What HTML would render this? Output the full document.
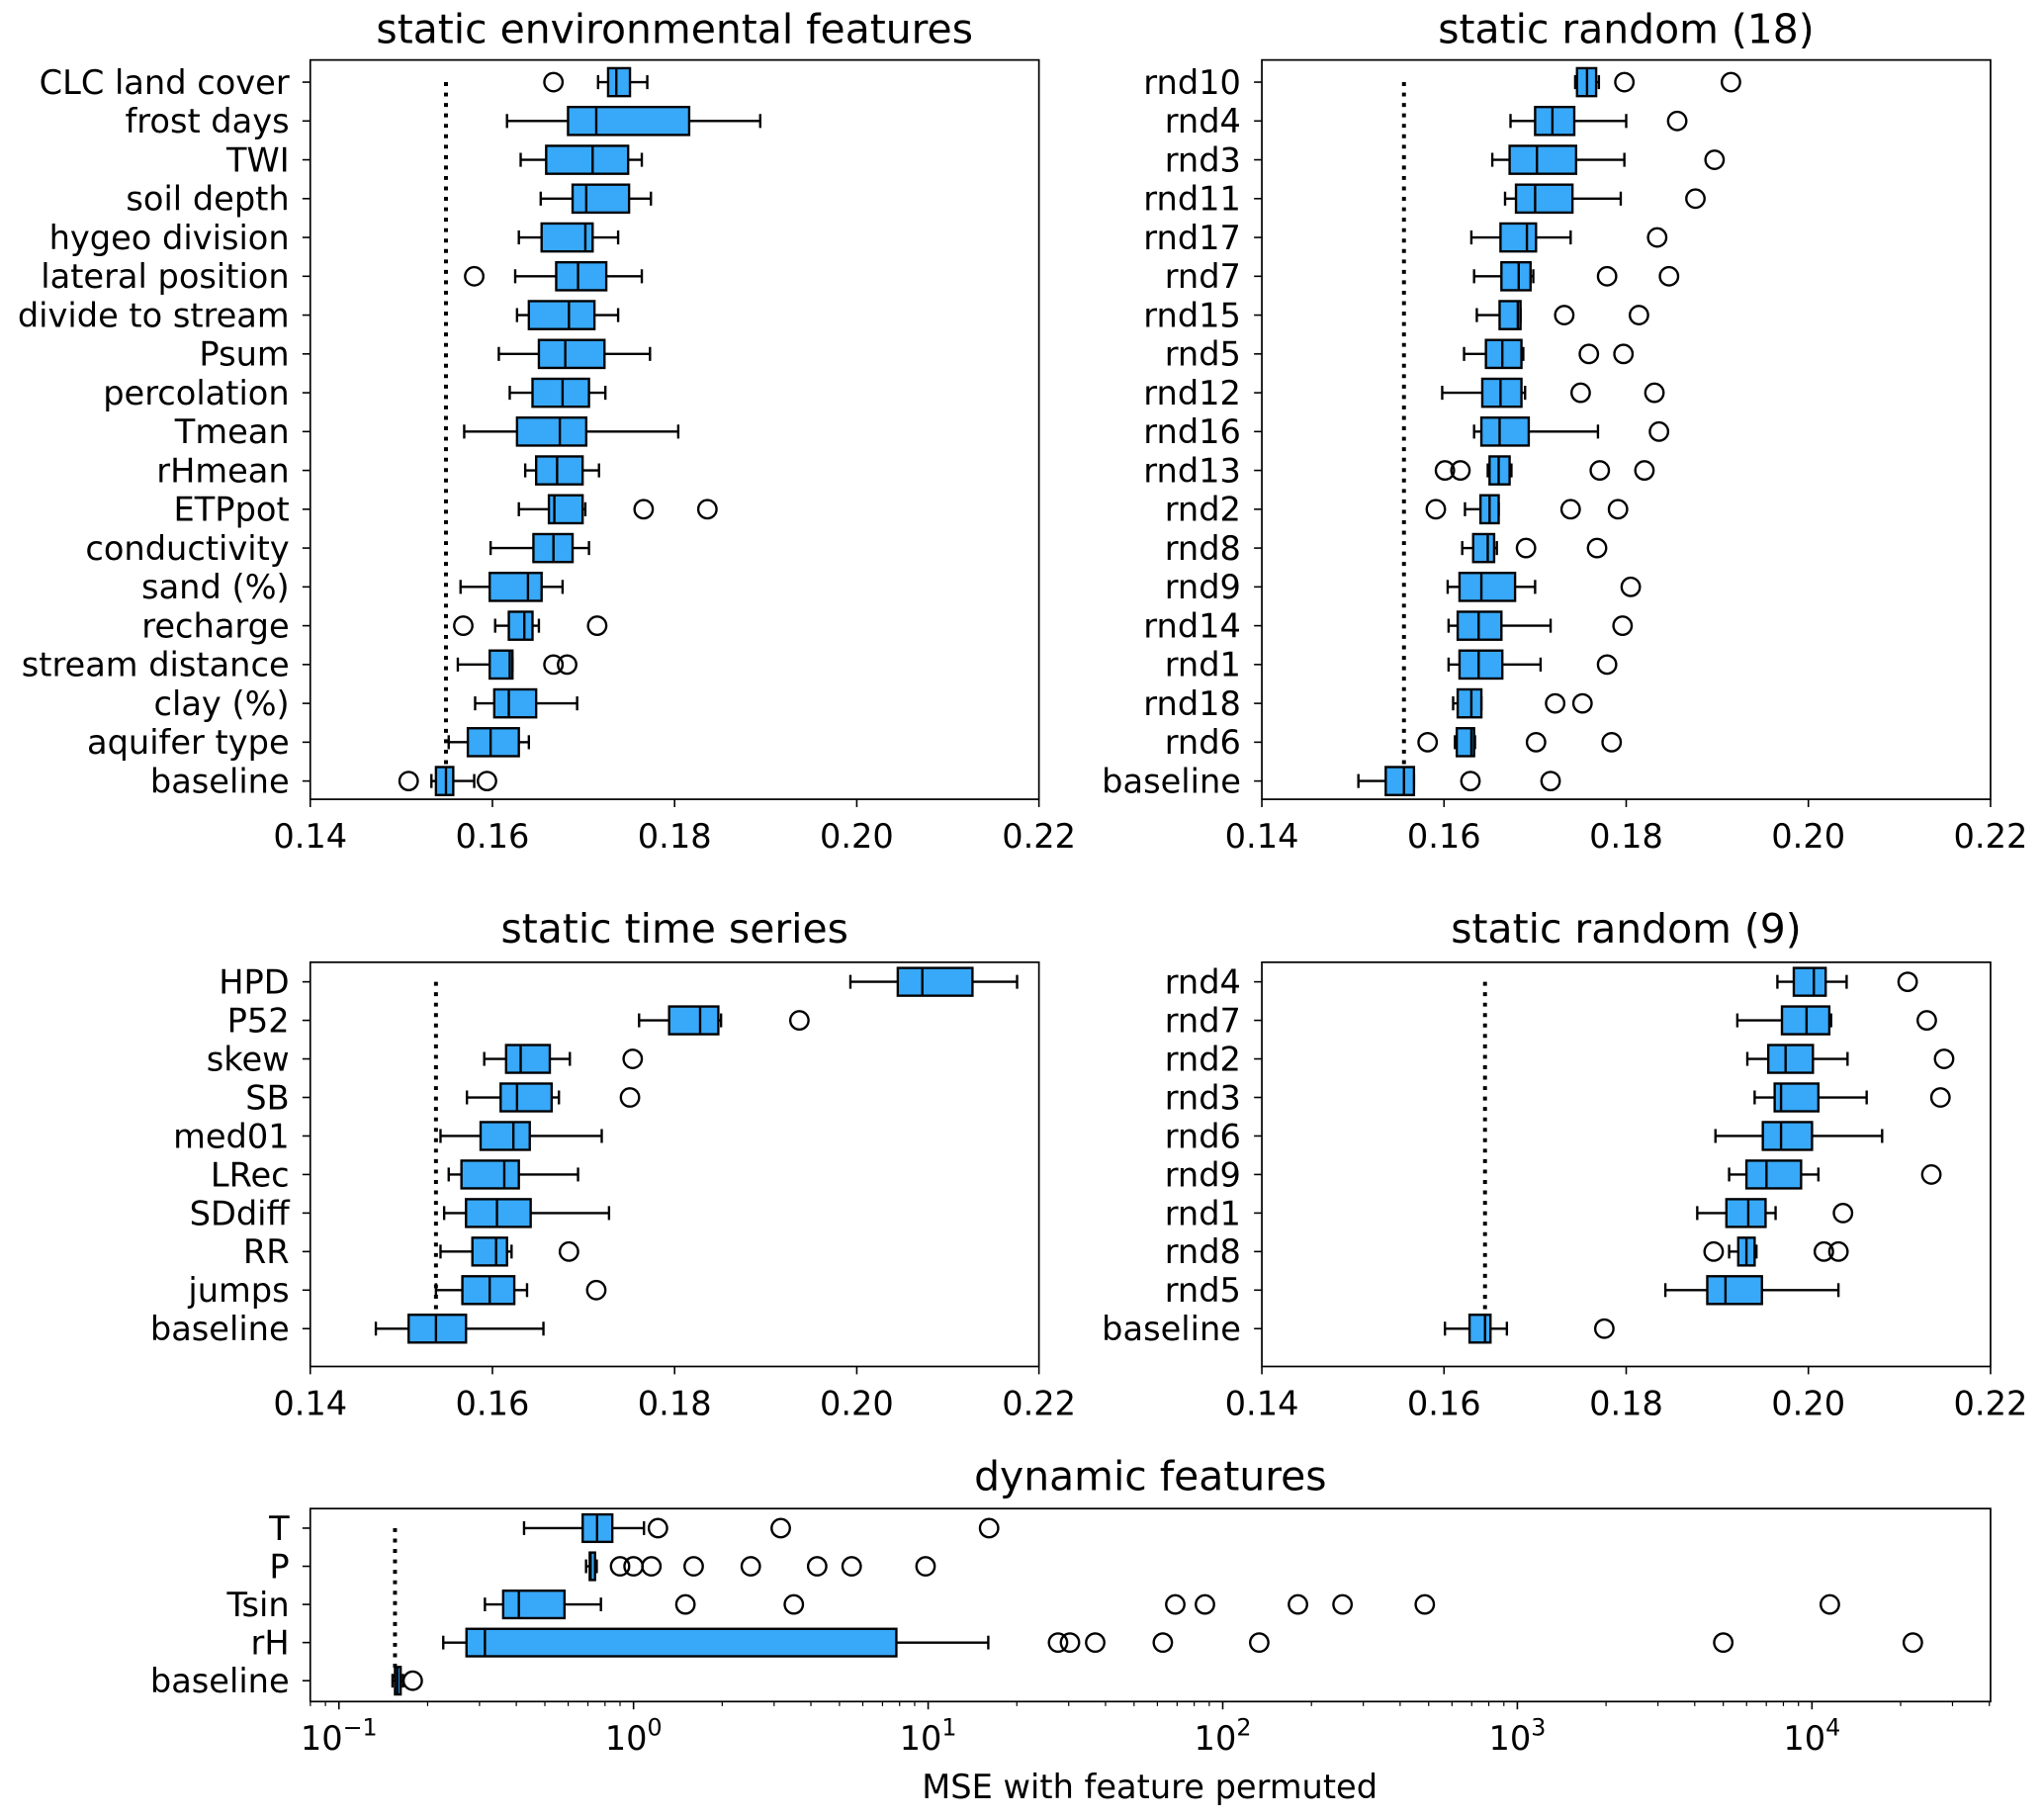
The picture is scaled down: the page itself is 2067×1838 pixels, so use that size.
<!DOCTYPE html>
<html><head><meta charset="utf-8"><style>
html,body{margin:0;padding:0;background:#fff;}
svg{display:block;font-family:"DejaVu Sans","Liberation Sans",sans-serif;}
</style></head><body>
<svg id="fig" width="2067" height="1838" viewBox="0 0 1568 1394.3" xmlns="http://www.w3.org/2000/svg">
<rect width="1568" height="1394.3" fill="#fff"/>
</svg>
<script>
// ---------- data: panel 1 static environmental features ----------
const envLabels = ["CLC land cover","frost days","TWI","soil depth","hygeo division","lateral position","divide to stream","Psum","percolation","Tmean","rHmean","ETPpot","conductivity","sand (%)","recharge","stream distance","clay (%)","aquifer type","baseline"];
const envWlo = [.1716,.1616,.1631,.1653,.1629,.1625,.1627,.1607,.1619,.1569,.1636,.1629,.1598,.1565,.1603,.1562,.1581,.1552,.1533];
const envQ1  = [.1727,.1683,.1659,.1688,.1654,.1670,.1640,.1651,.1644,.1627,.1648,.1662,.1645,.1597,.1618,.1597,.1602,.1573,.1538];
const envMed = [.1736,.1714,.1710,.1703,.1702,.1694,.1684,.1680,.1677,.1674,.1671,.1668,.1667,.1639,.1635,.1619,.1618,.1598,.1549];
const envQ3  = [.1751,.1816,.1749,.1750,.1710,.1725,.1712,.1723,.1706,.1703,.1699,.1699,.1688,.1654,.1644,.1622,.1648,.1629,.1557];
const envWhi = [.1770,.1894,.1764,.1774,.1738,.1764,.1738,.1773,.1724,.1804,.1717,.1702,.1706,.1677,.1651,.1622,.1693,.1640,.1580];
const envOut = [[.1667],[],[],[],[],[.1580],[],[],[],[],[],[.1766,.1836],[],[],[.1568,.1715],[.1667,.1682],[],[],[.1508,.1594]];
const envRef = 0.1549;
// ---------- data: panel 2 static random (18) ----------
const r18Labels = ["rnd10","rnd4","rnd3","rnd11","rnd17","rnd7","rnd15","rnd5","rnd12","rnd16","rnd13","rnd2","rnd8","rnd9","rnd14","rnd1","rnd18","rnd6","baseline"];
const r18Wlo = [.1744,.1673,.1653,.1667,.1630,.1633,.1636,.1622,.1598,.1633,.1648,.1623,.1620,.1604,.1605,.1605,.1610,.1612,.1506];
const r18Q1  = [.1746,.1700,.1672,.1679,.1662,.1663,.1661,.1646,.1642,.1641,.1650,.1640,.1632,.1617,.1615,.1617,.1615,.1614,.1536];
const r18Med = [.1757,.1719,.1702,.1700,.1691,.1682,.1681,.1664,.1662,.1661,.1660,.1650,.1648,.1641,.1638,.1638,.1630,.1630,.1556];
const r18Q3  = [.1767,.1743,.1745,.1741,.1701,.1695,.1684,.1685,.1685,.1693,.1672,.1660,.1655,.1678,.1663,.1664,.1641,.1633,.1567];
const r18Whi = [.1770,.1800,.1798,.1794,.1739,.1698,.1684,.1687,.1689,.1769,.1674,.1660,.1658,.1700,.1717,.1706,.1641,.1634,.1567];
const r18Out = [[.1798,.1915],[.1856],[.1897],[.1876],[.1834],[.1779,.1847],[.1732,.1814],[.1759,.1797],[.1750,.1831],[.1836],[.1601,.1618,.1771,.1820],[.1591,.1739,.1791],[.1690,.1768],[.1805],[.1796],[.1779],[.1722,.1752],[.1582,.1701,.1784],[.1629,.1717]];
const r18Ref = 0.1556;
// ---------- data: panel 3 static time series ----------
const tsLabels = ["HPD","P52","skew","SB","med01","LRec","SDdiff","RR","jumps","baseline"];
const tsWlo = [.1993,.1761,.1591,.1572,.1543,.1552,.1547,.1543,.1538,.1472];
const tsQ1  = [.2045,.1794,.1615,.1609,.1587,.1566,.1571,.1578,.1567,.1508];
const tsMed = [.2072,.1828,.1631,.1627,.1623,.1613,.1605,.1604,.1597,.1538];
const tsQ3  = [.2127,.1848,.1663,.1665,.1641,.1629,.1642,.1616,.1624,.1571];
const tsWhi = [.2176,.1851,.1685,.1673,.1720,.1694,.1728,.1621,.1638,.1656];
const tsOut = [[],[.1937],[.1754],[.1751],[],[],[],[.1684],[.1714],[]];
const tsRef = 0.1538;
// ---------- data: panel 4 static random (9) ----------
const r9Labels = ["rnd4","rnd7","rnd2","rnd3","rnd6","rnd9","rnd1","rnd8","rnd5","baseline"];
const r9Wlo = [.1966,.1922,.1933,.1941,.1898,.1913,.1878,.1913,.1843,.1601];
const r9Q1  = [.1984,.1971,.1956,.1963,.1950,.1932,.1910,.1923,.1889,.1628];
const r9Med = [.2006,.1998,.1975,.1970,.1970,.1954,.1934,.1932,.1909,.1645];
const r9Q3  = [.2019,.2023,.2005,.2011,.2004,.1992,.1953,.1941,.1949,.1651];
const r9Whi = [.2042,.2025,.2043,.2064,.2081,.2011,.1964,.1943,.2033,.1669];
const r9Out = [[.2109],[.2130],[.2149],[.2145],[],[.2135],[.2038],[.1896,.2017,.2033],[],[.1776]];
const r9Ref = 0.1645;
// ---------- data: panel 5 dynamic features (log) ----------
const dynLabels = ["T","P","Tsin","rH","baseline"];
const dynWlo = [.425,.69,.313,.226,.152];
const dynQ1  = [.672,.71,.361,.271,.155];
const dynMed = [.752,.715,.408,.313,.158];
const dynQ3  = [.847,.74,.583,7.8,.162];
const dynWhi = [1.085,.75,.775,16,.165];
const dynOut = [[1.21,3.16,16.1],[.9,1.0,1.15,1.6,2.5,4.2,5.5,9.8],[1.5,3.5,69,87,180,255,485,11500],[27.6,30.3,36.9,62.6,133,5000,22000],[.178]];
const dynRef = 0.155;
const linTicks = [0.14,0.16,0.18,0.20,0.22];
const linTickLabels = ["0.14","0.16","0.18","0.20","0.22"];
const logMajor = [-1,0,1,2,3,4];
const logMajorLabels = ["−1","0","1","2","3","4"];

const NS = "http://www.w3.org/2000/svg";
const svg = document.getElementById("fig");
function el(tag, attrs, parent){
  const e = document.createElementNS(NS, tag);
  for (const k in attrs) e.setAttribute(k, attrs[k]);
  (parent||svg).appendChild(e);
  return e;
}
const FILL = "#38a8f8", TF = 25.5, TTF = 31;

function drawPanel(p){
  const g = el("g", {});
  
  
  let sx;
  if (p.log) {
    const lo = Math.log10(p.dmin), hi = Math.log10(p.dmax);
    sx = v => p.x0 + (Math.log10(v) - lo) / (hi - lo) * (p.x1 - p.x0);
  } else {
    sx = v => p.x0 + (v - p.dmin) / (p.dmax - p.dmin) * (p.x1 - p.x0);
  }
  const n = p.labels.length;
  const sy = i => p.yFirst + i * (p.yLast - p.yFirst) / (n - 1);
  const row = (p.yLast - p.yFirst) / (n - 1);
  const bh = row * 0.72;
  const t = el("text", {x:(p.x0+p.x1)/2, y:p.titleY, "text-anchor":"middle", "font-size":TTF, fill:"#000"}, g);
  t.textContent = p.title;
  
  
  const ref = el("line", {x1:sx(p.ref), x2:sx(p.ref), y1:p.yFirst, y2:p.yLast, stroke:"#000", "stroke-width":3, "stroke-dasharray":"3,5"}, g);
  
  
  for (let i = 0; i < n; i++){
    const y = sy(i);
    const bg = el("g", {}, g);
    
    
    const wl = sx(p.wlo[i]), q1 = sx(p.q1[i]), md = sx(p.med[i]), q3 = sx(p.q3[i]), wh = sx(p.whi[i]);
    el("line", {x1:wl, x2:q1, y1:y, y2:y, stroke:"#000", "stroke-width":1.8}, bg);
    el("line", {x1:q3, x2:wh, y1:y, y2:y, stroke:"#000", "stroke-width":1.8}, bg);
    el("line", {x1:wl, x2:wl, y1:y-bh/4, y2:y+bh/4, stroke:"#000", "stroke-width":1.8}, bg);
    el("line", {x1:wh, x2:wh, y1:y-bh/4, y2:y+bh/4, stroke:"#000", "stroke-width":1.8}, bg);
    el("rect", {x:q1, y:y-bh/2, width:Math.max(q3-q1,0.5), height:bh, fill:FILL, stroke:"#000", "stroke-width":1.8}, bg);
    el("line", {x1:md, x2:md, y1:y-bh/2, y2:y+bh/2, stroke:"#000", "stroke-width":1.8}, bg);
    for (const o of p.out[i]){
      const c = el("circle", {cx:sx(o), cy:y, r:7, fill:"none", stroke:"#000", "stroke-width":1.8}, bg);
      
      
    }
    el("line", {x1:p.x0-6, x2:p.x0, y1:y, y2:y, stroke:"#000", "stroke-width":1.2}, g);
    const lb = el("text", {x:p.x0-16, y:y+9, "text-anchor":"end", "font-size":TF, fill:"#000"}, g);
    lb.textContent = p.labels[i];
    
    
  }
  const fr = el("rect", {x:p.x0, y:p.y0, width:p.x1-p.x0, height:p.y1-p.y0, fill:"none", stroke:"#000", "stroke-width":1.3}, g);
  
  
  if (p.log){
    for (let k = -2; k <= 5; k++){
      for (let m = 1; m <= 9; m++){
        const v = m * Math.pow(10, k);
        if (v < p.dmin || v > p.dmax) continue;
        const x = sx(v);
        el("line", {x1:x, x2:x, y1:p.y1, y2:p.y1 + (m===1?6:3.5), stroke:"#000", "stroke-width":(m===1?1.2:0.9)}, g);
      }
    }
    logMajor.forEach((e, j) => {
      const x = sx(Math.pow(10, e));
      const tl = el("text", {x:x, y:p.y1+37, "text-anchor":"middle", "font-size":TF, fill:"#000"}, g);
      tl.textContent = "10";
      const sp = el("tspan", {dy:-11, "font-size":18}, tl);
      sp.textContent = logMajorLabels[j];
      
      
    });
  } else {
    linTicks.forEach((v, j) => {
      const x = sx(v);
      el("line", {x1:x, x2:x, y1:p.y1, y2:p.y1+6, stroke:"#000", "stroke-width":1.2}, g);
      const tl = el("text", {x:x, y:p.y1+37, "text-anchor":"middle", "font-size":TF, fill:"#000"}, g);
      tl.textContent = linTickLabels[j];
      
      
    });
  }
}

drawPanel({name:"panel-static-environmental", title:"static environmental features", x0:238, x1:797, y0:46, y1:613, yFirst:63, yLast:599, titleY:33, dmin:0.14, dmax:0.22,
  labels:envLabels, wlo:envWlo, q1:envQ1, med:envMed, q3:envQ3, whi:envWhi, out:envOut, ref:envRef});
drawPanel({name:"panel-static-random-18", title:"static random (18)", x0:968, x1:1527, y0:46, y1:613, yFirst:63, yLast:599, titleY:33, dmin:0.14, dmax:0.22,
  labels:r18Labels, wlo:r18Wlo, q1:r18Q1, med:r18Med, q3:r18Q3, whi:r18Whi, out:r18Out, ref:r18Ref});
drawPanel({name:"panel-static-time-series", title:"static time series", x0:238, x1:797, y0:738, y1:1048, yFirst:753, yLast:1019, titleY:723, dmin:0.14, dmax:0.22,
  labels:tsLabels, wlo:tsWlo, q1:tsQ1, med:tsMed, q3:tsQ3, whi:tsWhi, out:tsOut, ref:tsRef});
drawPanel({name:"panel-static-random-9", title:"static random (9)", x0:968, x1:1527, y0:738, y1:1048, yFirst:753, yLast:1019, titleY:723, dmin:0.14, dmax:0.22,
  labels:r9Labels, wlo:r9Wlo, q1:r9Q1, med:r9Med, q3:r9Q3, whi:r9Whi, out:r9Out, ref:r9Ref});
drawPanel({name:"panel-dynamic-features", title:"dynamic features", log:true, x0:238, x1:1527, y0:1157, y1:1305, yFirst:1172, yLast:1289, titleY:1143, dmin:Math.pow(10,-1-22/226), dmax:Math.pow(10,4+137/226),
  labels:dynLabels, wlo:dynWlo, q1:dynQ1, med:dynMed, q3:dynQ3, whi:dynWhi, out:dynOut, ref:dynRef});

const xl = el("text", {x:882, y:1379, "text-anchor":"middle", "font-size":TF, fill:"#000"});
xl.textContent = "MSE with feature permuted";


</script>
</body></html>
